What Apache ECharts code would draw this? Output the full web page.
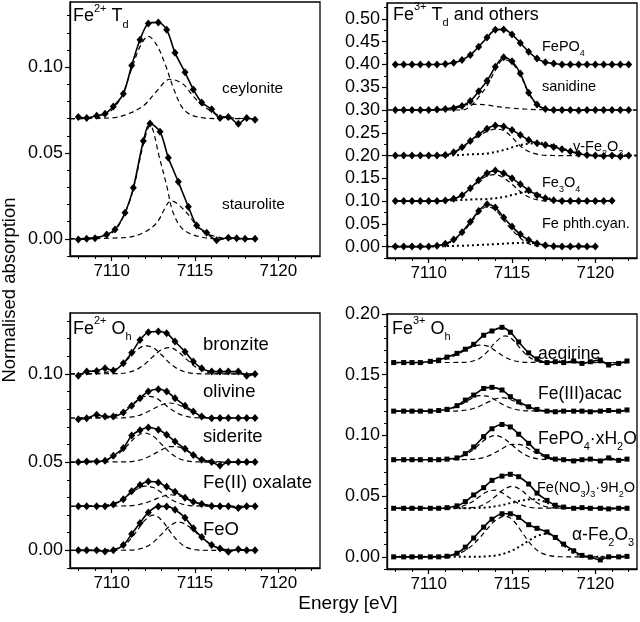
<!DOCTYPE html>
<html><head><meta charset="utf-8">
<script src="https://cdn.jsdelivr.net/npm/echarts@6/dist/echarts.min.js"></script>
<style>html,body{margin:0;padding:0;background:#fff}#c{width:640px;height:622px}</style>
</head><body><div id="c"></div>
<script>
// ---------- tick values ----------
const xMajor = [7110, 7115, 7120];
const xMinor = [7108,7109,7110,7111,7112,7113,7114,7115,7116,7117,7118,7119,7120,7121,7122];
const tlYTicks = [0, 0.05, 0.10];
const tlYMinor = [-0.01,0,0.01,0.02,0.03,0.04,0.05,0.06,0.07,0.08,0.09,0.10,0.11,0.12,0.13];
const trYTicks = [0,0.05,0.10,0.15,0.20,0.25,0.30,0.35,0.40,0.45,0.50];
const trYMinor = [-0.025,0,0.025,0.05,0.075,0.10,0.125,0.15,0.175,0.20,0.225,0.25,0.275,0.30,0.325,0.35,0.375,0.40,0.425,0.45,0.475,0.50,0.525];
const blYTicks = [0, 0.05, 0.10];
const blYMinor = [-0.01,0,0.01,0.02,0.03,0.04,0.05,0.06,0.07,0.08,0.09,0.10,0.11,0.12,0.13];
const brYTicks = [0, 0.05, 0.10, 0.15, 0.20];
const brYMinor = [-0.01,0,0.01,0.02,0.03,0.04,0.05,0.06,0.07,0.08,0.09,0.10,0.11,0.12,0.13,0.14,0.15,0.16,0.17,0.18,0.19,0.20];

// ---------- Fe2+ Td (top left) ----------
const tlE = [7108.0,7108.5,7109.1,7109.6,7110.1,7110.7,7111.2,7111.7,7112.2,7112.8,7113.3,7113.8,7114.4,7114.9,7115.4,7116.0,7116.5,7117.0,7117.6,7118.1,7118.6];
const ceylonite = [0.0710,0.0704,0.0717,0.0729,0.0771,0.0845,0.1010,0.1160,0.1254,0.1261,0.1219,0.1085,0.0970,0.0870,0.0795,0.0755,0.0704,0.0710,0.0670,0.0704,0.0694];
const stE = [7108.0,7108.5,7109.0,7109.7,7110.2,7110.8,7111.3,7111.9,7112.3,7112.9,7113.4,7114.0,7114.6,7115.1,7115.7,7116.3,7117.0,7117.5,7118.0,7118.6];
const staurolite = [-0.0004,0.0000,0.0004,0.0025,0.0054,0.0152,0.0297,0.0570,0.0672,0.0624,0.0472,0.0332,0.0187,0.0078,0.0035,-0.0008,0.0006,0.0004,0.0000,0.0000];
const ceyComp1 = [[7107.5,0.070],[7109.0,0.0705],[7109.6,0.072],[7110.1,0.076],[7110.6,0.083],[7111.2,0.099],[7111.7,0.112],[7112.2,0.118],[7112.7,0.113],[7113.2,0.102],[7113.7,0.088],[7114.2,0.077],[7114.7,0.0725],[7115.5,0.0705],[7116.5,0.070],[7118.7,0.070]];
const ceyComp2 = [[7107.5,0.070],[7110.0,0.0705],[7110.9,0.0725],[7111.9,0.0775],[7112.7,0.086],[7113.5,0.093],[7114.3,0.090],[7114.9,0.083],[7115.5,0.0775],[7116.3,0.0725],[7117.2,0.0705],[7118.7,0.070]];
const stComp1 = [[7107.5,0],[7109.5,0.0015],[7110.2,0.005],[7110.8,0.015],[7111.3,0.029],[7111.9,0.055],[7112.3,0.066],[7112.9,0.046],[7113.3,0.031],[7113.7,0.015],[7114.3,0.0054],[7115.3,0.0012],[7116.5,0],[7118.7,0]];
const stComp2 = [[7107.5,0],[7110.9,0.0008],[7111.9,0.0035],[7112.7,0.0093],[7113.6,0.022],[7114.5,0.0152],[7115.3,0.0054],[7116.3,0.0012],[7117.5,0],[7118.7,0]];

// ---------- Fe3+ Td and others (top right) ----------
const trE = [7108,7108.5,7109,7109.5,7110,7110.5,7111,7111.5,7112,7112.5,7113,7113.5,7114,7114.5,7115,7115.5,7116,7116.5,7117,7117.5,7118,7118.5,7119,7119.5,7120,7120.5,7121,7121.5,7122];
const fePO4 = [0.400,0.400,0.400,0.400,0.400,0.400,0.401,0.404,0.410,0.421,0.439,0.459,0.476,0.477,0.466,0.447,0.428,0.413,0.405,0.402,0.400,0.400,0.400,0.400,0.400,0.400,0.400,0.400,0.400];
const sanidine = [0.300,0.300,0.300,0.300,0.300,0.301,0.302,0.304,0.309,0.320,0.341,0.364,0.395,0.416,0.407,0.380,0.338,0.312,0.302,0.300,0.300,0.300,0.299,0.300,0.300,0.300,0.300,0.300,0.300];
const gammaFe2O3 = [0.200,0.200,0.200,0.200,0.200,0.200,0.201,0.207,0.218,0.232,0.247,0.259,0.266,0.264,0.256,0.245,0.234,0.227,0.223,0.219,0.214,0.209,0.204,0.201,0.200,0.199,0.200,0.198,0.200];
const fe3O4 = [0.100,0.100,0.100,0.100,0.100,0.100,0.1015,0.105,0.113,0.128,0.146,0.161,0.167,0.161,0.150,0.137,0.124,0.113,0.106,0.102,0.100,0.100,0.100,0.100,0.100,0.100,0.101];
const fePhthCyan = [0,0,0,0,0.0003,0.002,0.0065,0.0155,0.0315,0.0545,0.078,0.093,0.086,0.064,0.044,0.027,0.0145,0.007,0.003,0.001,0.0005,0,0.001,0,0];
const sanComp1 = [[7107.5,0.300],[7112.0,0.300],[7112.5,0.308],[7113.0,0.3285],[7113.5,0.353],[7114.0,0.387],[7114.5,0.411],[7115.0,0.403],[7115.5,0.3775],[7116.0,0.3365],[7116.5,0.311],[7117.0,0.302],[7117.5,0.300],[7122.5,0.300]];
const sanComp2 = [[7107.5,0.300],[7110.5,0.3005],[7111.0,0.302],[7111.5,0.306],[7112.0,0.310],[7112.5,0.312],[7113.0,0.3125],[7113.5,0.311],[7114.0,0.308],[7115.0,0.304],[7116.0,0.3015],[7117.0,0.3005],[7122.5,0.300]];
const gamComp1 = [[7107.5,0.200],[7110.5,0.200],[7111.0,0.201],[7111.5,0.206],[7112.0,0.216],[7112.5,0.229],[7113.0,0.243],[7113.5,0.253],[7114.0,0.258],[7114.5,0.255],[7115.0,0.240],[7115.5,0.221],[7116.0,0.209],[7116.5,0.203],[7117.0,0.2005],[7118.0,0.200],[7122.5,0.200]];
const gamComp2 = [[7110.5,0.200],[7111.5,0.2005],[7112.5,0.2025],[7113.5,0.2045],[7114.5,0.212],[7115.0,0.218],[7115.5,0.223],[7116.0,0.226],[7116.6,0.228],[7117.5,0.222],[7118.5,0.210],[7119.5,0.2015],[7120.5,0.200],[7122.5,0.200]];
const fe3Comp1 = [[7108.0,0.100],[7110.0,0.100],[7111.0,0.1015],[7111.5,0.105],[7112.0,0.113],[7112.5,0.127],[7113.0,0.143],[7113.5,0.155],[7114.0,0.158],[7114.5,0.151],[7115.0,0.137],[7115.5,0.121],[7116.0,0.109],[7116.5,0.103],[7117.0,0.1005],[7121.0,0.100]];
const fe3Comp2 = [[7108.0,0.100],[7110.5,0.100],[7111.5,0.1015],[7112.5,0.1035],[7113.5,0.1045],[7114.5,0.109],[7115.2,0.115],[7115.9,0.1205],[7116.5,0.116],[7117.0,0.109],[7117.5,0.103],[7118.0,0.1005],[7121.0,0.100]];
const phComp1 = [[7107.5,0],[7110.0,0.0002],[7110.5,0.0018],[7111.0,0.0055],[7111.5,0.0135],[7112.0,0.029],[7112.5,0.051],[7113.0,0.074],[7113.5,0.088],[7114.0,0.081],[7114.5,0.058],[7115.0,0.037],[7115.5,0.019],[7116.0,0.0065],[7116.5,0.0015],[7117.0,0],[7120.0,0]];
const phComp2 = [[7107.5,0],[7110.0,0.0003],[7111.0,0.001],[7112.0,0.002],[7113.0,0.0035],[7114.0,0.0055],[7115.0,0.0075],[7115.9,0.0085],[7116.5,0.0065],[7117.0,0.003],[7117.5,0.001],[7118.0,0],[7120.0,0]];

// ---------- Fe2+ Oh (bottom left) ----------
const blE = [7108.0,7108.5,7109.1,7109.6,7110.1,7110.7,7111.2,7111.7,7112.2,7112.8,7113.3,7113.8,7114.4,7114.9,7115.4,7116.0,7116.5,7117.0,7117.6,7118.1,7118.6];
const bronzite = [0.0989,0.1013,0.1017,0.1032,0.1019,0.1060,0.1120,0.1192,0.1236,0.1240,0.1230,0.1183,0.1126,0.1070,0.1032,0.1013,0.1013,0.1013,0.1013,0.0989,0.1000];
const olivine = [0.0743,0.0749,0.0768,0.0758,0.0758,0.0781,0.0819,0.0862,0.0900,0.0913,0.0900,0.0862,0.0819,0.0787,0.0758,0.0749,0.0750,0.0750,0.0750,0.0750,0.0750];
const siderite = [0.0500,0.0504,0.0504,0.0508,0.0536,0.0580,0.0651,0.0681,0.0696,0.0683,0.0655,0.0617,0.0576,0.0540,0.0513,0.0500,0.0481,0.0500,0.0500,0.0500,0.0500];
const feOxalate = [0.0250,0.0250,0.0250,0.0250,0.0260,0.0290,0.0335,0.0370,0.0390,0.0385,0.0360,0.0332,0.0298,0.0275,0.0262,0.0252,0.0250,0.0250,0.0240,0.0250,0.0250];
const feO = [0.0000,0.0000,0.0000,-0.0006,0.0000,0.0030,0.0092,0.0155,0.0215,0.0249,0.0249,0.0230,0.0185,0.0125,0.0075,0.0030,0.0010,-0.0008,0.0006,0.0000,0.0000];
const bzComp1 = [[7107.5,0.100],[7109.0,0.1001],[7110.0,0.1018],[7110.5,0.1044],[7111.0,0.1087],[7111.5,0.1134],[7112.0,0.1159],[7112.5,0.1148],[7113.0,0.1107],[7113.5,0.1060],[7114.0,0.1026],[7114.5,0.1009],[7115.0,0.1002],[7116.0,0.100],[7118.7,0.100]];
const bzComp2 = [[7107.5,0.100],[7110.5,0.1002],[7111.0,0.1008],[7111.5,0.1025],[7112.0,0.1056],[7112.5,0.1100],[7113.0,0.1138],[7113.5,0.1149],[7114.0,0.1125],[7114.5,0.1082],[7115.0,0.1042],[7115.5,0.1017],[7116.0,0.1005],[7116.5,0.1001],[7118.7,0.100]];
const olComp1 = [[7107.5,0.075],[7109.5,0.0752],[7110.0,0.0761],[7110.5,0.078],[7111.0,0.0811],[7111.5,0.0848],[7112.0,0.0873],[7112.5,0.087],[7113.0,0.0841],[7113.5,0.0804],[7114.0,0.0775],[7114.5,0.0759],[7115.0,0.0752],[7116.0,0.075],[7118.7,0.075]];
const olComp2 = [[7107.5,0.075],[7110.5,0.075],[7111.0,0.0754],[7111.5,0.0761],[7112.0,0.0778],[7112.5,0.0802],[7113.0,0.0825],[7113.5,0.0835],[7114.0,0.0825],[7114.5,0.0802],[7115.0,0.0778],[7115.5,0.0761],[7116.0,0.0754],[7116.5,0.0751],[7118.7,0.075]];
const sdComp1 = [[7107.5,0.050],[7109.5,0.0507],[7110.0,0.0522],[7110.5,0.0554],[7111.0,0.060],[7111.5,0.0646],[7112.0,0.0665],[7112.5,0.0646],[7113.0,0.060],[7113.5,0.0554],[7114.0,0.0522],[7114.5,0.0507],[7115.0,0.0502],[7116.0,0.050],[7118.7,0.050]];
const sdComp2 = [[7107.5,0.050],[7111.0,0.0502],[7111.5,0.0508],[7112.0,0.0521],[7112.5,0.0544],[7113.0,0.057],[7113.5,0.0588],[7114.0,0.0586],[7114.5,0.0565],[7115.0,0.0539],[7115.5,0.0518],[7116.0,0.0506],[7116.5,0.0502],[7118.7,0.050]];
const oxComp1 = [[7107.5,0.025],[7109.5,0.0254],[7110.0,0.0263],[7110.5,0.0282],[7111.0,0.0313],[7111.5,0.0346],[7112.0,0.0364],[7112.5,0.0356],[7113.0,0.0327],[7113.5,0.0293],[7114.0,0.0269],[7114.5,0.0256],[7115.0,0.0252],[7116.0,0.025],[7118.7,0.025]];
const oxComp2 = [[7107.5,0.025],[7111.0,0.0252],[7111.5,0.0257],[7112.0,0.0268],[7112.5,0.0285],[7113.0,0.0304],[7113.5,0.0315],[7114.0,0.031],[7114.5,0.0293],[7115.0,0.0274],[7115.5,0.0261],[7116.0,0.0254],[7116.5,0.0251],[7118.7,0.025]];
const feoComp1 = [[7107.5,0],[7110.0,0.0004],[7110.5,0.0017],[7111.0,0.005],[7111.5,0.0108],[7112.0,0.0171],[7112.5,0.020],[7113.0,0.0171],[7113.5,0.0108],[7114.0,0.005],[7114.5,0.0017],[7115.0,0.0004],[7116.0,0],[7118.7,0]];
const feoComp2 = [[7107.5,0],[7111.0,0.0001],[7111.5,0.0005],[7112.0,0.0017],[7112.5,0.0046],[7113.0,0.0092],[7113.5,0.0139],[7114.0,0.016],[7114.5,0.0144],[7115.0,0.0106],[7115.5,0.0063],[7116.0,0.0031],[7116.5,0.0012],[7117.0,0.0004],[7118.0,0],[7118.7,0]];

// ---------- Fe3+ Oh (bottom right) ----------
const brE = [7107.9,7108.5,7109.0,7109.5,7110.1,7110.6,7111.1,7111.7,7112.2,7112.7,7113.3,7113.8,7114.4,7114.9,7115.4,7116.0,7116.5,7117.1,7117.6,7118.1,7118.7,7119.2,7119.7,7120.3,7120.8,7121.4,7121.9];
const aegirine = [0.160,0.160,0.160,0.160,0.161,0.162,0.1645,0.1676,0.171,0.175,0.1825,0.186,0.189,0.185,0.177,0.168,0.163,0.160,0.1607,0.160,0.1613,0.1593,0.1607,0.162,0.158,0.1593,0.1613];
const feAcac = [0.120,0.120,0.120,0.120,0.120,0.1205,0.1215,0.1245,0.1291,0.1332,0.1387,0.1396,0.1374,0.1319,0.1277,0.1236,0.1214,0.1200,0.1195,0.1200,0.1200,0.1200,0.1195,0.1200,0.1205,0.1200,0.1210];
const fePO4xH2O = [0.080,0.080,0.080,0.080,0.080,0.080,0.0805,0.0815,0.085,0.0905,0.099,0.1055,0.109,0.107,0.101,0.0935,0.087,0.0825,0.0805,0.080,0.079,0.080,0.0805,0.079,0.0815,0.0795,0.0805];
const feNitrate = [0.040,0.040,0.040,0.040,0.040,0.040,0.0405,0.042,0.0455,0.051,0.057,0.063,0.0665,0.068,0.066,0.060,0.0525,0.0465,0.0425,0.041,0.040,0.0405,0.040,0.040,0.0395,0.040,0.040];
const alphaFe2O3 = [0,0,0,0,0,0,0.0005,0.003,0.008,0.0155,0.0245,0.031,0.0355,0.0355,0.0325,0.0265,0.0235,0.0205,0.016,0.0105,0.005,0.0012,-0.0002,-0.0025,0.0,0.0,0.0004];
const aegComp1 = [[7107.9,0.160],[7109.5,0.160],[7110.0,0.1604],[7110.5,0.1612],[7111.0,0.1627],[7111.5,0.1653],[7112.0,0.1688],[7112.5,0.1722],[7113.0,0.1743],[7113.5,0.1737],[7114.0,0.1698],[7114.5,0.1651],[7115.0,0.162],[7115.5,0.1606],[7116.0,0.1601],[7121.9,0.160]];
const aegComp2 = [[7107.9,0.160],[7112.0,0.1601],[7112.5,0.1607],[7113.0,0.163],[7113.5,0.1686],[7114.0,0.1766],[7114.6,0.182],[7115.0,0.1794],[7115.5,0.1717],[7116.0,0.1648],[7116.5,0.1613],[7117.0,0.1603],[7121.9,0.160]];
const acComp1 = [[7107.9,0.120],[7110.5,0.1202],[7111.0,0.1209],[7111.5,0.1226],[7112.0,0.1259],[7112.5,0.1299],[7113.0,0.1327],[7113.5,0.1324],[7114.0,0.1291],[7114.5,0.1251],[7115.0,0.1222],[7115.5,0.1207],[7116.0,0.1202],[7121.9,0.120]];
const acComp2 = [[7107.9,0.120],[7111.5,0.120],[7112.0,0.1205],[7112.5,0.1215],[7113.0,0.1237],[7113.5,0.127],[7114.0,0.1301],[7114.5,0.1309],[7115.0,0.129],[7115.5,0.1256],[7116.0,0.1227],[7116.5,0.121],[7117.0,0.1203],[7121.9,0.120]];
const fpComp1 = [[7107.9,0.080],[7111.0,0.0802],[7111.5,0.0809],[7112.0,0.0827],[7112.5,0.0865],[7113.0,0.0921],[7113.5,0.0976],[7114.0,0.100],[7114.5,0.0976],[7115.0,0.0921],[7115.5,0.0865],[7116.0,0.0827],[7116.5,0.0809],[7117.0,0.0802],[7121.9,0.080]];
const fpComp2 = [[7107.9,0.080],[7112.5,0.0802],[7113.0,0.0809],[7113.5,0.0826],[7114.0,0.0859],[7114.5,0.0899],[7115.0,0.0927],[7115.5,0.0924],[7116.0,0.0891],[7116.5,0.0851],[7117.0,0.0822],[7117.5,0.0807],[7118.0,0.0802],[7121.9,0.080]];
const niComp1 = [[7107.9,0.040],[7111.0,0.0401],[7111.5,0.0404],[7112.0,0.0416],[7112.5,0.0445],[7113.0,0.0491],[7113.5,0.0536],[7114.0,0.0549],[7114.5,0.052],[7115.0,0.0471],[7115.5,0.0431],[7116.0,0.041],[7116.5,0.0402],[7121.9,0.040]];
const niComp2 = [[7107.9,0.040],[7112.0,0.0401],[7112.5,0.0404],[7113.0,0.0415],[7113.5,0.0445],[7114.0,0.0497],[7114.5,0.0554],[7115.0,0.058],[7115.5,0.0554],[7116.0,0.0497],[7116.5,0.0445],[7117.0,0.0415],[7117.5,0.0404],[7118.0,0.0401],[7121.9,0.040]];
const niComp3 = [[7107.9,0.040],[7112.0,0.040],[7112.5,0.0401],[7113.0,0.0403],[7113.5,0.0407],[7114.0,0.0416],[7114.5,0.0429],[7115.0,0.0446],[7115.5,0.0462],[7116.0,0.0473],[7116.3,0.0475],[7116.8,0.0462],[7117.3,0.0434],[7117.8,0.0413],[7118.3,0.0403],[7119.0,0.040],[7121.9,0.040]];
const alComp1 = [[7107.9,0],[7111.0,0.0005],[7111.5,0.0015],[7112.0,0.0039],[7112.5,0.0082],[7113.0,0.0148],[7113.5,0.0227],[7114.0,0.0299],[7114.6,0.0335],[7115.1,0.0296],[7115.6,0.0203],[7116.1,0.0109],[7116.6,0.0045],[7117.1,0.0015],[7117.6,0.0004],[7118.5,0],[7121.9,0]];
const alComp2 = [[7107.9,0],[7113.0,0.0001],[7113.5,0.0004],[7114.0,0.0011],[7114.5,0.0026],[7115.0,0.0052],[7115.5,0.0089],[7116.0,0.0133],[7116.5,0.0171],[7117.1,0.019],[7117.6,0.016],[7118.1,0.0095],[7118.7,0.0032],[7119.2,0.0009],[7119.8,0],[7121.9,0]];

// ---------- layout / styles ----------
const FONT = '"Liberation Sans", Arial, Helvetica, sans-serif';
const panels = [
  {left:70,  top:2,   width:250, height:254, ymin:-0.01,  ymax:0.138,  yt:tlYTicks, ym:tlYMinor},
  {left:387, top:3,   width:250, height:255, ymin:-0.025, ymax:0.535,  yt:trYTicks, ym:trYMinor},
  {left:70,  top:313, width:250, height:255, ymin:-0.01,  ymax:0.1345, yt:blYTicks, ym:blYMinor},
  {left:387, top:314, width:250, height:255, ymin:-0.01,  ymax:0.20,   yt:brYTicks, ym:brYMinor}
];
const grid = [], xAxis = [], yAxis = [];
panels.forEach((p, i) => {
  grid.push({left:p.left, top:p.top, width:p.width, height:p.height, show:true, borderColor:'#000', borderWidth:1.3,
             backgroundColor:'transparent', containLabel:false, outerBoundsMode:'none'});
  const line = {show:true, onZero:false, lineStyle:{color:'#000', width:1.3}};
  xAxis.push({gridIndex:i, type:'value', position:'bottom', min:7107.5, max:7122.5, axisLine:line,
    axisTick:{show:true, customValues:xMajor, length:5, lineStyle:{color:'#000', width:1.2}},
    axisLabel:{show:true, customValues:xMajor, margin:7, color:'#000', fontSize:17, fontFamily:FONT, formatter:v => String(Math.round(v))},
    splitLine:{show:false}});
  xAxis.push({gridIndex:i, type:'value', position:'bottom', min:7107.5, max:7122.5, axisLine:{show:false, onZero:false},
    axisTick:{show:true, customValues:xMinor, length:3, lineStyle:{color:'#000', width:1}},
    axisLabel:{show:false}, splitLine:{show:false}});
  yAxis.push({gridIndex:i, type:'value', position:'left', min:p.ymin, max:p.ymax, axisLine:line,
    axisTick:{show:true, customValues:p.yt, length:5, lineStyle:{color:'#000', width:1.2}},
    axisLabel:{show:true, customValues:p.yt, margin:7, color:'#000', fontSize:18, fontFamily:FONT, formatter:v => v.toFixed(2)},
    splitLine:{show:false}});
  yAxis.push({gridIndex:i, type:'value', position:'left', min:p.ymin, max:p.ymax, axisLine:{show:false, onZero:false},
    axisTick:{show:true, customValues:p.ym, length:3, lineStyle:{color:'#000', width:1}},
    axisLabel:{show:false}, splitLine:{show:false}});
});

const series = [];
function comp(g, pts, dotted) {
  series.push({type:'line', xAxisIndex:2*g, yAxisIndex:2*g, data:pts, showSymbol:false, smooth:0.35,
    lineStyle:{color:'#000', width: dotted ? 2 : 1.2, type: dotted ? [2, 3] : [5, 3.5]}, z:2, silent:true});
}
function meas(g, xs, ys, sym) {
  series.push({type:'line', xAxisIndex:2*g, yAxisIndex:2*g, data:xs.map((x, k) => [x, ys[k]]),
    symbol:sym, symbolSize: sym === 'rect' ? 5 : [7, 8], showSymbol:true, smooth:0.3,
    lineStyle:{color:'#000', width:1.6}, itemStyle:{color:'#000'}, z:3, silent:true});
}
// components first
comp(0, ceyComp1); comp(0, ceyComp2); comp(0, stComp1); comp(0, stComp2);
comp(1, sanComp1); comp(1, sanComp2); comp(1, gamComp1); comp(1, gamComp2, true);
comp(1, fe3Comp1); comp(1, fe3Comp2, true); comp(1, phComp1); comp(1, phComp2, true);
comp(2, bzComp1); comp(2, bzComp2); comp(2, olComp1); comp(2, olComp2); comp(2, sdComp1); comp(2, sdComp2);
comp(2, oxComp1); comp(2, oxComp2); comp(2, feoComp1); comp(2, feoComp2);
comp(3, aegComp1); comp(3, aegComp2); comp(3, acComp1); comp(3, acComp2); comp(3, fpComp1); comp(3, fpComp2);
comp(3, niComp1); comp(3, niComp2); comp(3, niComp3, true); comp(3, alComp1); comp(3, alComp2, true);
// measured data + fit
meas(0, tlE, ceylonite, 'diamond'); meas(0, stE, staurolite, 'diamond');
meas(1, trE, fePO4, 'diamond'); meas(1, trE, sanidine, 'diamond'); meas(1, trE, gammaFe2O3, 'diamond');
meas(1, trE.slice(0, fe3O4.length), fe3O4, 'diamond'); meas(1, trE.slice(0, fePhthCyan.length), fePhthCyan, 'diamond');
meas(2, blE, bronzite, 'diamond'); meas(2, blE, olivine, 'diamond'); meas(2, blE, siderite, 'diamond');
meas(2, blE, feOxalate, 'diamond'); meas(2, blE, feO, 'diamond');
meas(3, brE, aegirine, 'rect'); meas(3, brE, feAcac, 'rect'); meas(3, brE, fePO4xH2O, 'rect');
meas(3, brE, feNitrate, 'rect'); meas(3, brE, alphaFe2O3, 'rect');

// ---------- texts ----------
const labels = [
  {x:73,  y:16.5, t:'Fe{sup|2+} T{sub|d}', s:18},
  {x:222, y:89,   t:'ceylonite', s:15.5},
  {x:222, y:205,  t:'staurolite', s:15.5},
  {x:393, y:15,   t:'Fe{sup|3+} T{sub|d} and others', s:18},
  {x:542, y:47,   t:'FePO{sub|4}', s:14.5},
  {x:542, y:87,   t:'sanidine', s:14.5},
  {x:573, y:147,  t:'\u03b3-Fe{sub|2}O{sub|3}', s:14.5},
  {x:542, y:183,  t:'Fe{sub|3}O{sub|4}', s:14.5},
  {x:542, y:224,  t:'Fe phth.cyan.', s:14.5},
  {x:73,  y:329,  t:'Fe{sup|2+} O{sub|h}', s:18},
  {x:203, y:345,  t:'bronzite', s:18.5},
  {x:203, y:392,  t:'olivine', s:18.5},
  {x:203, y:437,  t:'siderite', s:18.5},
  {x:203, y:483,  t:'Fe(II) oxalate', s:18.5},
  {x:203, y:530,  t:'FeO', s:18.5},
  {x:392, y:329,  t:'Fe{sup|3+} O{sub|h}', s:18},
  {x:538, y:354,  t:'aegirine', s:17.5},
  {x:538, y:394,  t:'Fe(III)acac', s:17.5},
  {x:538, y:439,  t:'FePO{sub|4}\u00b7xH{sub|2}O', s:17.5},
  {x:537, y:488,  t:'Fe(NO{sub|3}){sub|3}\u00b79H{sub|2}O', s:14.5},
  {x:572, y:535,  t:'\u03b1-Fe{sub|2}O{sub|3}', s:17.5}
];
const graphic = labels.map(l => ({
  type:'text', x:l.x, y:l.y, silent:true,
  style:{text:l.t, fill:'#000', fontSize:l.s, fontFamily:FONT, lineHeight:Math.round(l.s * 1.5),
    align:'left', verticalAlign:'middle',
    rich:{
      sup:{fontSize:Math.round(l.s * 0.6), fontFamily:FONT, fill:'#000', lineHeight:9, verticalAlign:'top'},
      sub:{fontSize:Math.round(l.s * 0.62), fontFamily:FONT, fill:'#000', lineHeight:10, verticalAlign:'bottom'}
    }}
}));
graphic.push({type:'text', x:348, y:604, silent:true,
  style:{text:'Energy [eV]', fill:'#000', fontSize:19, fontFamily:FONT, align:'center', verticalAlign:'middle'}});
graphic.push({type:'text', x:10, y:290, rotation:Math.PI / 2, silent:true,
  style:{text:'Normalised absorption', fill:'#000', fontSize:18.5, fontFamily:FONT, align:'center', verticalAlign:'middle'}});

const chart = echarts.init(document.getElementById('c'), null, {renderer:'canvas'});
chart.setOption({animation:false, backgroundColor:'#fff', grid, xAxis, yAxis, series, graphic});
</script>
</body></html>
